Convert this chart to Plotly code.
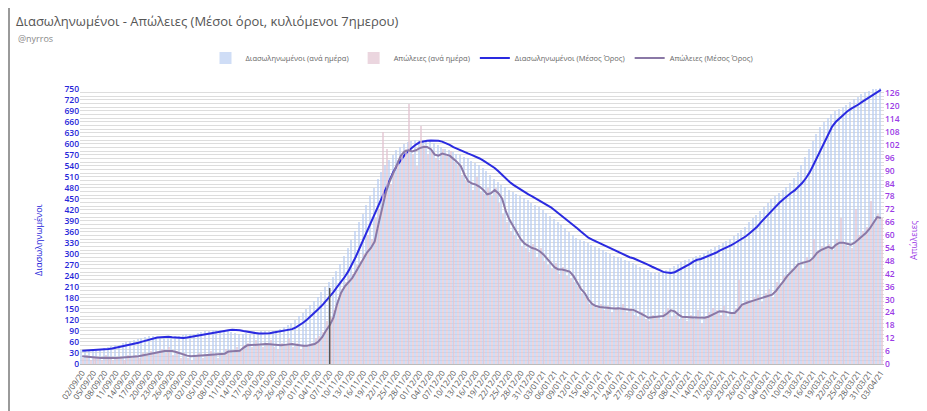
import pandas as pd
import plotly.graph_objects as go

start_date = "2020-09-02"
end_date = "2021-04-03"
dates = pd.date_range(start_date, end_date, freq="D")

# Διασωληνωμένοι (ανά ημέρα)
icu_daily = [
    38, 39, 39, 40, 41, 42, 44, 46, 49, 51,
    53, 56, 59, 62, 65, 69, 72, 73, 75, 75,
    73, 71, 70, 70, 72, 75, 77, 79, 81, 82,
    83, 85, 87, 89, 91, 94, 93, 93, 92, 89,
    87, 85, 83, 82, 84, 83, 85, 87, 89, 90,
    90, 91, 94, 96, 101, 106, 113, 121, 130, 140,
    150, 161, 172, 183, 197, 210, 223, 238, 253, 272,
    294, 316, 338, 362, 386, 409, 433, 457, 479, 503,
    524, 541, 557, 570, 582, 590, 599, 604, 607, 609,
    611, 610, 608, 607, 603, 598, 590, 586, 582, 578,
    573, 569, 565, 560, 553, 548, 541, 535, 526, 515,
    505, 496, 487, 481, 474, 469, 462, 457, 451, 446,
    440, 434, 427, 419, 411, 403, 396, 388, 379, 370,
    361, 352, 344, 339, 334, 329, 324, 320, 315, 310,
    305, 300, 295, 291, 288, 284, 280, 274, 270, 265,
    260, 255, 251, 249, 248, 250, 255, 261, 266, 272,
    279, 284, 286, 290, 294, 298, 303, 309, 313, 318,
    323, 329, 335, 341, 348, 356, 365, 374, 386, 397,
    407, 418, 429, 440, 449, 458, 466, 473, 482, 493,
    506, 522, 542, 563, 585, 608, 628, 647, 660, 670,
    680, 688, 695, 700, 707, 714, 721, 728, 735, 741,
    745, 748, 750, 752,
]

# Απώλειες (ανά ημέρα)
deaths_daily = [
    3, 4, 2, 3, 3, 2, 4, 3, 2, 3,
    3, 2, 4, 3, 4, 3, 5, 4, 6, 5,
    6, 7, 5, 8, 4, 6, 3, 5, 3, 2,
    4, 5, 3, 4, 6, 4, 3, 5, 7, 6,
    5, 8, 6, 9, 10, 8, 11, 9, 8, 10,
    11, 8, 7, 10, 9, 12, 8, 10, 7, 9,
    8, 10, 12, 13, 15, 20, 22, 25, 30, 35,
    38, 41, 42, 46, 48, 51, 60, 58, 68, 72,
    108, 100, 84, 90, 95, 98, 100, 121, 98, 92,
    111, 102, 98, 99, 96, 95, 100, 97, 99, 94,
    92, 88, 85, 84, 81, 87, 80, 79, 82, 78,
    82, 75, 70, 66, 62, 60, 58, 55, 54, 52,
    56, 50, 54, 48, 46, 44, 47, 42, 45, 41,
    40, 38, 36, 33, 31, 28, 27, 26, 28, 25,
    27, 24, 26, 25, 28, 24, 26, 23, 22, 24,
    21, 20, 23, 22, 21, 24, 26, 22, 23, 21,
    22, 20, 23, 21, 25, 19, 22, 24, 26, 25,
    23, 27, 22, 24, 26, 39, 28, 30, 29, 31,
    32, 29, 33, 35, 31, 38, 36, 41, 42, 44,
    45, 47, 44, 50, 49, 58, 52, 55, 54, 56,
    53, 58, 68, 57, 55, 54, 72, 60, 62, 64,
    76, 66, 70, 68,
]

# Διασωληνωμένοι (Μέσος Όρος)
icu_avg = [
    36, 37, 37, 38, 38, 39, 40, 41, 42, 44,
    46, 48, 50, 52, 55, 58, 61, 64, 67, 70,
    72, 73, 74, 74, 73, 72, 71, 71, 72, 74,
    76, 78, 80, 81, 82, 84, 86, 88, 90, 92,
    93, 93, 92, 90, 88, 86, 84, 83, 83, 83,
    84, 86, 88, 89, 90, 92, 95, 100, 106, 113,
    121, 130, 140, 150, 160, 172, 182, 196, 210, 222,
    237, 253, 271, 293, 316, 339, 362, 385, 408, 432,
    456, 480, 503, 524, 541, 556, 570, 581, 590, 598,
    604, 607, 608, 609, 609, 608, 606, 602, 597, 591,
    586, 581, 577, 573, 569, 565, 560, 554, 548, 541,
    534, 525, 515, 505, 496, 488, 481, 474, 468, 462,
    457, 451, 446, 440, 434, 427, 419, 411, 403, 396,
    388, 379, 370, 361, 352, 344, 339, 334, 329, 324,
    320, 315, 310, 305, 300, 295, 291, 288, 284, 280,
    274, 270, 265, 260, 255, 251, 249, 248, 250, 255,
    261, 265, 272, 279, 284, 286, 290, 294, 298, 303,
    309, 313, 318, 323, 329, 335, 341, 348, 356, 365,
    374, 386, 397, 407, 418, 429, 440, 449, 458, 466,
    473, 482, 493, 506, 522, 542, 563, 585, 608, 628,
    647, 660, 670, 680, 688, 695, 700, 707, 714, 721,
    728, 735, 741, 747,
]

# Απώλειες (Μέσος Όρος)
deaths_avg = [
    3.6, 3.4, 3.1, 2.9, 2.8, 2.8, 2.9, 2.8, 2.7, 2.8,
    2.9, 3.0, 3.1, 3.2, 3.3, 3.6, 4.0, 4.4, 4.8, 5.1,
    5.4, 5.7, 6.0, 6.2, 6.1, 5.6, 5.0, 4.4, 3.9, 3.6,
    3.7, 3.8, 3.9, 4.0, 4.1, 4.2, 4.3, 4.4, 4.8, 5.8,
    5.9, 6.0, 6.2, 7.5, 8.7, 8.8, 9.0, 9.2, 9.3, 9.3,
    9.2, 9.0, 8.8, 8.7, 8.9, 9.2, 9.3, 9.0, 8.7, 8.5,
    8.5, 8.8, 9.3, 10.5, 12.5, 15.5, 18, 21.5, 28, 33,
    36, 38, 40, 43, 46, 49.5, 52, 54, 57, 65,
    73, 80, 85, 89, 93, 97, 99, 99.5, 99, 99.5,
    100.5, 101, 101, 100, 97.5, 97, 98, 97.5, 97, 95.5,
    94, 92, 88, 85, 84, 83.5, 82.5, 81, 79, 79.5,
    81, 79.5, 77, 71, 67, 64, 61, 58, 56, 55,
    54, 53.5, 52.5, 51, 49, 47, 45, 44, 44, 43.5,
    43, 41, 38, 35, 33, 30, 28, 27, 26.5, 26.5,
    26.2, 26, 25.8, 26, 25.7, 25.5, 25.3, 25.2, 24.5, 23.5,
    22.5, 21.5, 21.8, 22, 22.3, 22.3, 23.5, 25, 24.5, 23,
    22, 21.8, 21.8, 21.7, 21.6, 21.5, 21.5, 22, 23, 24,
    24.6, 24.5, 24, 23.8, 23.8, 25.5, 27.7, 28.5, 29, 29.5,
    30, 30.5, 31, 31.8, 32.3, 34, 36, 38.5, 40.9, 42.5,
    44.5, 46.5, 47.1, 47.5, 48, 49.5, 51.8, 53, 54, 54.6,
    53.8, 55.5, 56.5, 56.5, 56, 55.5, 56.5, 58, 59.6, 61,
    63, 65.5, 68.4, 68,
]

left_ticks = list(range(0, 751, 30))
right_ticks = list(range(0, 127, 6))
lockdown_date = "2020-11-07"
lockdown_height = 207

DAY = 86400000
BLUE = "#2626d9"
PURPLE = "#9b3be6"
FONT = "Open Sans"
PW = 804
PH = 276

fig = go.Figure()
fig.add_trace(go.Bar(
    x=dates, y=icu_daily, name="Διασωληνωμένοι (ανά ημέρα)",
    marker=dict(color="rgba(186,206,242,0.7)", line=dict(width=0)),
    width=0.55 * DAY, offset=-0.5 * DAY, yaxis="y",
))
fig.add_trace(go.Bar(
    x=dates, y=deaths_daily, name="Απώλειες (ανά ημέρα)",
    marker=dict(color="rgba(226,196,210,0.7)", line=dict(width=0)),
    width=0.55 * DAY, offset=0, yaxis="y2",
))
fig.add_trace(go.Scatter(
    x=dates, y=icu_avg, name="Διασωληνωμένοι (Μέσος Όρος)", mode="lines",
    line=dict(color="#2a2ae0", width=2), yaxis="y",
))
fig.add_trace(go.Scatter(
    x=dates, y=deaths_avg, name="Απώλειες (Μέσος Όρος)", mode="lines",
    line=dict(color="#8a78a6", width=2), yaxis="y2",
))

fig.add_shape(type="line", x0=lockdown_date, x1=lockdown_date, y0=0, y1=lockdown_height,
              xref="x", yref="y", line=dict(color="#555555", width=1.5))

fig.update_layout(
    width=927, height=411,
    margin=dict(l=72, r=51, t=80, b=55),
    paper_bgcolor="white", plot_bgcolor="white",
    barmode="overlay", bargap=0,
    font=dict(family=FONT, color="#555"),
    title=dict(text="Διασωληνωμένοι - Απώλειες (Μέσοι όροι, κυλιόμενοι 7ημερου)",
               x=8 / 927, xanchor="left", y=1 - 13 / 411, yanchor="middle",
               font=dict(size=13, color="#555", family=FONT)),
    showlegend=True,
    legend=dict(orientation="h", x=0.5, xanchor="center", y=1 + 30 / PH, yanchor="middle",
                font=dict(size=7.5, color="#666", family=FONT), bgcolor="rgba(0,0,0,0)",
                traceorder="normal", itemwidth=30),
    xaxis=dict(type="date", range=[pd.Timestamp(start_date) - pd.Timedelta(hours=14),
                                   pd.Timestamp(end_date) + pd.Timedelta(hours=20)],
               tick0=start_date, dtick=3 * DAY, tickformat="%d/%m/%y", tickangle=-55,
               tickfont=dict(size=8, color="#555", family=FONT),
               showgrid=False, showline=True, linecolor="#bbbbbb", ticks=""),
    yaxis=dict(range=[0, 752], tickvals=left_ticks,
               tickfont=dict(size=8.5, color=BLUE, family=FONT, weight=600),
               showgrid=True, gridcolor="#dddddd", gridwidth=1, zeroline=False,
               minor=dict(dtick=10, showgrid=True, gridcolor="#dddddd", gridwidth=1)),
    yaxis2=dict(range=[0, 128.5], tickvals=right_ticks, overlaying="y", side="right",
                tickfont=dict(size=8.5, color=PURPLE, family=FONT, weight=600),
                showgrid=False, zeroline=False),
    annotations=[
        dict(text="@nyrros", xref="paper", yref="paper", x=-64 / PW, y=1 + 50 / PH,
             xanchor="left", yanchor="middle", showarrow=False,
             font=dict(size=9, color="#888", family=FONT)),
        dict(text="Διασωληνωμένοι", xref="paper", yref="paper", x=-42 / PW, y=(356 - 232) / PH,
             xanchor="center", yanchor="middle", showarrow=False, textangle=-90,
             font=dict(size=9, color=BLUE, family=FONT)),
        dict(text="Απώλειες", xref="paper", yref="paper", x=1 + 29 / PW, y=(356 - 232) / PH,
             xanchor="center", yanchor="middle", showarrow=False, textangle=-90,
             font=dict(size=9, color=PURPLE, family=FONT)),
    ],
)
fig.add_shape(type="line", xref="paper", yref="paper", x0=-71 / PW, x1=-71 / PW,
              y0=-55 / PH, y1=1 + 80 / PH, line=dict(color="#9a9a9a", width=2))

fig.write_html("out.html")
